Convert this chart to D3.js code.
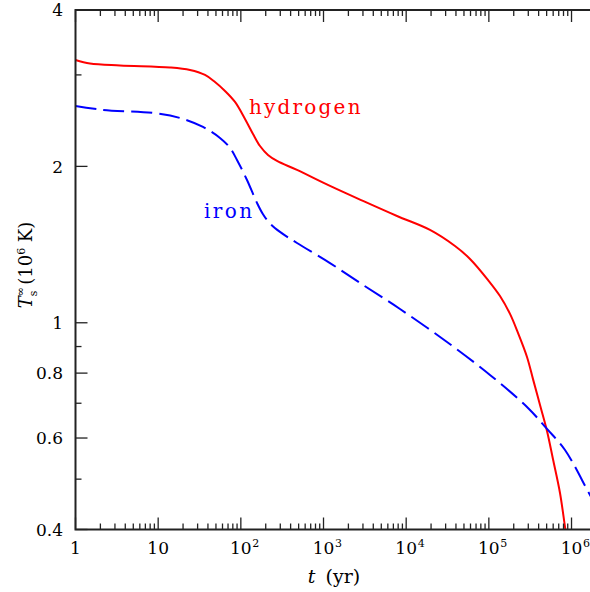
<!DOCTYPE html>
<html>
<head>
<meta charset="utf-8">
<script src="https://cdn.jsdelivr.net/npm/d3@7"></script>
<style>
  body { margin: 0; background: #fff; }
  svg { display: block; }
</style>
</head>
<body>
<div id="chart"></div>
<script>
// chart size
const WIDTH = 590, HEIGHT = 592;
const plot_left = 75.5, plot_top = 10, plot_bottom = 529.5, plot_right = 591;

// data: t in yr, T in 10^6 K
let hydrogen_t = [1, 1.497, 3.453, 13.9, 24.27, 36.86, 48.69, 64.33, 85.0, 112.3, 140.3, 170.5, 213, 273.8, 477.9, 1198, 3003, 7745, 19410, 38950, 59160, 97650, 136400, 180300, 225200, 289400, 342100, 415800, 505100, 597000, 725500, 834000, 881900];
let hydrogen_T = [3.205, 3.156, 3.128, 3.100, 3.066, 2.999, 2.907, 2.794, 2.661, 2.468, 2.309, 2.189, 2.104, 2.049, 1.969, 1.834, 1.716, 1.605, 1.509, 1.405, 1.327, 1.209, 1.126, 1.040, 0.956, 0.8594, 0.779, 0.6945, 0.6191, 0.5461, 0.4703, 0.4046, 0.3819];

let iron_t = [1, 2.151, 8.661, 18.37, 34.85, 55.96, 73.95, 89.85, 118.7, 156.9, 185.4, 225.3, 297.6, 477.9, 1198, 2763, 8421, 31170, 103200, 297600, 505100, 834000, 1673000, 2211000];
let iron_T = [2.615, 2.569, 2.535, 2.479, 2.382, 2.269, 2.171, 2.058, 1.883, 1.701, 1.618, 1.553, 1.496, 1.424, 1.303, 1.193, 1.063, 0.9183, 0.7936, 0.6855, 0.6246, 0.5691, 0.4662, 0.4324];

let y_major = [0.4, 0.6, 0.8, 1, 2, 4];
let y_minor = [0.5, 0.7, 0.9, 3];
let x_decades = [0, 1, 2, 3, 4, 5, 6];

let svg = d3.select("#chart")
    .append("svg")
    .attr("width", WIDTH)
    .attr("height", HEIGHT);

// scales
let x = d3.scaleLog()
    .domain([1, Math.pow(10, (plot_right - plot_left) / 82.67)])
    .range([plot_left, plot_right]);
let y = d3.scaleLog()
    .domain([0.4, 4])
    .range([plot_bottom, plot_top]);

// clip for the curves
svg.append("clipPath").attr("id", "clip")
    .append("rect")
    .attr("x", plot_left).attr("y", plot_top)
    .attr("width", plot_right - plot_left).attr("height", plot_bottom - plot_top);

let line = d3.line()
    .x(d => x(d[0]))
    .y(d => y(d[1]))
    .curve(d3.curveCatmullRom.alpha(0.5));

let hData = hydrogen_t.map((t, i) => [t, hydrogen_T[i]]);
let fData = iron_t.map((t, i) => [t, iron_T[i]]);

svg.append("path")
    .datum(hData)
    .attr("clip-path", "url(#clip)")
    .attr("fill", "none")
    .attr("stroke", "#ff0000")
    .attr("stroke-width", 2)
    .attr("d", line);

svg.append("path")
    .datum(fData)
    .attr("clip-path", "url(#clip)")
    .attr("fill", "none")
    .attr("stroke", "#0000ff")
    .attr("stroke-width", 2)
    .attr("stroke-dasharray", "21,7")
    .attr("d", line);

// x ticks (bottom and top, inward)
let xmaj = x_decades.map(d => Math.pow(10, d));
let xmin = [];
x_decades.forEach(d => { for (let k = 2; k <= 9; k++) { let v = k * Math.pow(10, d); if (v < x.domain()[1]) xmin.push(v); } });

let ticks = svg.append("g").attr("stroke", "#222").attr("stroke-width", 1.3);
xmaj.forEach(v => {
    ticks.append("line").attr("x1", x(v)).attr("x2", x(v)).attr("y1", plot_bottom).attr("y2", plot_bottom - 12);
    ticks.append("line").attr("x1", x(v)).attr("x2", x(v)).attr("y1", plot_top).attr("y2", plot_top + 12);
});
xmin.forEach(v => {
    ticks.append("line").attr("x1", x(v)).attr("x2", x(v)).attr("y1", plot_bottom).attr("y2", plot_bottom - 6);
    ticks.append("line").attr("x1", x(v)).attr("x2", x(v)).attr("y1", plot_top).attr("y2", plot_top + 6);
});
y_major.forEach(v => {
    ticks.append("line").attr("x1", plot_left).attr("x2", plot_left + 12).attr("y1", y(v)).attr("y2", y(v));
});
y_minor.forEach(v => {
    ticks.append("line").attr("x1", plot_left).attr("x2", plot_left + 6).attr("y1", y(v)).attr("y2", y(v));
});

// frame
svg.append("rect")
    .attr("x", plot_left).attr("y", plot_top)
    .attr("width", plot_right - plot_left).attr("height", plot_bottom - plot_top)
    .attr("fill", "none")
    .attr("stroke", "#222")
    .attr("stroke-width", 2);

// tick labels
const FONT = "DejaVu Serif";
y_major.forEach(v => {
    svg.append("text")
        .attr("x", 63).attr("y", y(v))
        .attr("dy", "0.36em")
        .style("text-anchor", "end")
        .style("font-family", FONT)
        .style("font-size", 17)
        .text(v);
});

x_decades.forEach(d => {
    let v = Math.pow(10, d);
    svg.append("text")
        .attr("x", x(v)).attr("y", 554)
        .style("text-anchor", "middle")
        .style("font-family", FONT)
        .style("font-size", 17)
        .text(d == 0 ? "1" : "10");
    if (d >= 2) {
        svg.append("text")
            .attr("x", x(v) + 11.5).attr("y", 547)
            .style("font-family", FONT)
            .style("font-size", 11)
            .text(d);
    }
});

// axis titles
let xt = svg.append("text")
    .attr("x", 334).attr("y", 583)
    .style("text-anchor", "middle")
    .style("font-family", FONT)
    .style("font-size", 19);
xt.append("tspan").style("font-style", "italic").text("t");
xt.append("tspan").attr("dx", 10).text("(yr)");

let yt = svg.append("text")
    .attr("transform", "translate(32, 265) rotate(-90)")
    .style("text-anchor", "middle")
    .style("font-family", FONT)
    .style("font-size", 18);
yt.append("tspan").style("font-style", "italic").text("T");
yt.append("tspan").attr("dy", -8).style("font-size", 11).text("∞");
yt.append("tspan").attr("dx", -9).attr("dy", 13).style("font-size", 11).text("s");
yt.append("tspan").attr("dy", -5).text(" (10");
yt.append("tspan").attr("dy", -7).style("font-size", 11).text("6");
yt.append("tspan").attr("dy", 7).text(" K)");

// curve labels
svg.append("text")
    .attr("x", x(125.6)).attr("y", y(2.52))
    .style("font-family", FONT)
    .style("font-size", 20)
    .style("letter-spacing", "2.2px")
    .attr("fill", "#ff0000")
    .text("hydrogen");

svg.append("text")
    .attr("x", x(35.8)).attr("y", y(1.59))
    .style("font-family", FONT)
    .style("font-size", 20)
    .style("letter-spacing", "2.4px")
    .attr("fill", "#0000ff")
    .text("iron");
</script>
</body>
</html>
